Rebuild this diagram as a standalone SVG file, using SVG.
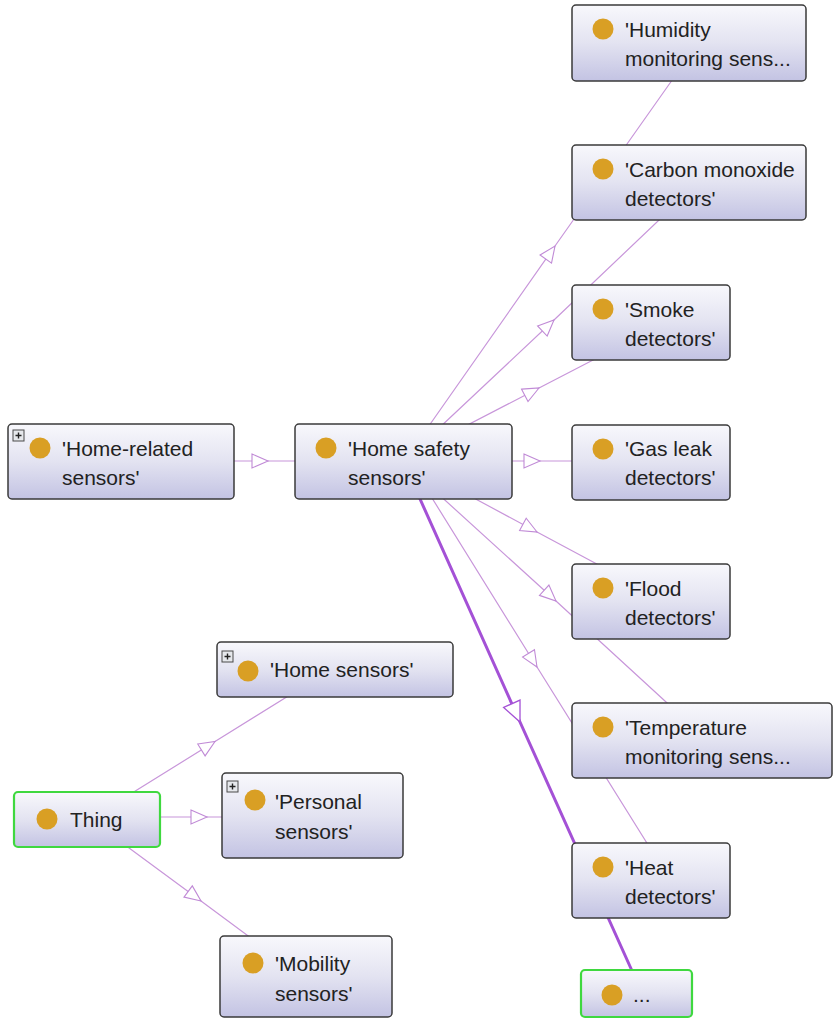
<svg xmlns="http://www.w3.org/2000/svg" width="833" height="1020" viewBox="0 0 833 1020">
  <style>
    .box { fill: url(#boxFill); stroke: #3a3a3a; stroke-width: 1.5; }
    .root { fill: url(#boxFill); stroke: #3fd83f; stroke-width: 2.2; }
    .dot { fill: #d99f24; }
    .lbl { font-family: "Liberation Sans", Arial, sans-serif; font-size: 21px; fill: #222; }
    .plusbox { fill: #e6e8ec; stroke: #4a4a4a; stroke-width: 1; }
    .plus { stroke: #222; stroke-width: 1.4; }
    .edge { fill: none; stroke: #c896da; stroke-width: 1.2; marker-mid: url(#tri); }
    .edge-hl { fill: none; stroke: #a451d6; stroke-width: 3; marker-mid: url(#triHl); }
  </style>
  <defs>
    <linearGradient id="boxFill" x1="0" y1="0" x2="0" y2="1">
      <stop offset="0" stop-color="#f8f8fc"/>
      <stop offset="0.5" stop-color="#e3e3f1"/>
      <stop offset="1" stop-color="#c3c3e3"/>
    </linearGradient>
    <marker id="tri" markerUnits="userSpaceOnUse" markerWidth="20" markerHeight="18" refX="17" refY="8" orient="auto" overflow="visible">
      <path d="M1,1 L17,8 L1,15 Z" fill="#fff" stroke="#c08ad6" stroke-width="1.1"/>
    </marker>
    <marker id="triHl" markerUnits="userSpaceOnUse" markerWidth="24" markerHeight="22" refX="21" refY="10" orient="auto" overflow="visible">
      <path d="M1,1 L21,10 L1,19 Z" fill="#fff" stroke="#a451d6" stroke-width="1.3"/>
    </marker>
  </defs>

  <rect width="833" height="1020" fill="#ffffff"/>

  <!-- subclass edges, drawn centre to centre beneath the nodes -->
  <g id="connectors">
    <path class="edge" d="M121,461 L268,461 L403,461"/>
    <path class="edge" d="M405,460 L555,246 L699,42"/>
    <path class="edge" d="M405,460 L554,320 L699,182"/>
    <path class="edge" d="M400,460 L539,388 L651,330"/>
    <path class="edge" d="M403,461 L540,461 L651,461"/>
    <path class="edge" d="M405,461 L537,532 L651,593"/>
    <path class="edge" d="M403,462 L556,601 L702,735"/>
    <path class="edge" d="M409,461 L537,667 L670,880"/>
    <path class="edge-hl" d="M403,461 L520,722 L642,993"/>
    <path class="edge" d="M87,821 L215,741.5 L335,667"/>
    <path class="edge" d="M87,817 L207,817 L312,817"/>
    <path class="edge" d="M87,817 L201,901 L306,979"/>
  </g>

  <g id="humidity">
    <rect class="box" x="572" y="5" width="234" height="76" rx="4"/>
    <circle class="dot" cx="603" cy="29" r="10.5"/>
    <text class="lbl" x="625" y="37">'Humidity</text>
    <text class="lbl" x="625" y="66">monitoring sens...</text>
  </g>

  <g id="carbon-monoxide">
    <rect class="box" x="572" y="145" width="234" height="75" rx="4"/>
    <circle class="dot" cx="603" cy="169" r="10.5"/>
    <text class="lbl" x="625" y="177">'Carbon monoxide</text>
    <text class="lbl" x="625" y="206">detectors'</text>
  </g>

  <g id="smoke">
    <rect class="box" x="572" y="285" width="158" height="75" rx="4"/>
    <circle class="dot" cx="603" cy="309" r="10.5"/>
    <text class="lbl" x="625" y="317">'Smoke</text>
    <text class="lbl" x="625" y="346">detectors'</text>
  </g>

  <g id="gas-leak">
    <rect class="box" x="572" y="425" width="158" height="75" rx="4"/>
    <circle class="dot" cx="603" cy="449" r="10.5"/>
    <text class="lbl" x="625" y="456">'Gas leak</text>
    <text class="lbl" x="625" y="485">detectors'</text>
  </g>

  <g id="flood">
    <rect class="box" x="572" y="564" width="158" height="75" rx="4"/>
    <circle class="dot" cx="603" cy="588" r="10.5"/>
    <text class="lbl" x="625" y="596">'Flood</text>
    <text class="lbl" x="625" y="625">detectors'</text>
  </g>

  <g id="temperature">
    <rect class="box" x="572" y="703" width="260" height="75" rx="4"/>
    <circle class="dot" cx="603" cy="727" r="10.5"/>
    <text class="lbl" x="625" y="735">'Temperature</text>
    <text class="lbl" x="625" y="764">monitoring sens...</text>
  </g>

  <g id="heat">
    <rect class="box" x="572" y="843" width="158" height="75" rx="4"/>
    <circle class="dot" cx="603" cy="867" r="10.5"/>
    <text class="lbl" x="625" y="875">'Heat</text>
    <text class="lbl" x="625" y="904">detectors'</text>
  </g>

  <g id="more">
    <rect class="root" x="581" y="970" width="111" height="47" rx="4"/>
    <circle class="dot" cx="612" cy="995" r="10.5"/>
    <text class="lbl" x="633" y="1002">...</text>
  </g>

  <g id="home-related">
    <rect class="box" x="8" y="424" width="226" height="75" rx="4"/>
    <rect class="plusbox" x="13" y="430" width="11" height="11"/>
    <path class="plus" d="M15.5,435.5 H21.5 M18.5,432.5 V438.5"/>
    <circle class="dot" cx="40" cy="448" r="10.5"/>
    <text class="lbl" x="62" y="456">'Home-related</text>
    <text class="lbl" x="62" y="485">sensors'</text>
  </g>

  <g id="home-safety">
    <rect class="box" x="295" y="424" width="217" height="75" rx="4"/>
    <circle class="dot" cx="326" cy="448" r="10.5"/>
    <text class="lbl" x="348" y="456">'Home safety</text>
    <text class="lbl" x="348" y="485">sensors'</text>
  </g>

  <g id="home-sensors">
    <rect class="box" x="217" y="642" width="236" height="55" rx="4"/>
    <rect class="plusbox" x="222" y="651" width="11" height="11"/>
    <path class="plus" d="M224.5,656.5 H230.5 M227.5,653.5 V659.5"/>
    <circle class="dot" cx="248" cy="671" r="10.5"/>
    <text class="lbl" x="270" y="677">'Home sensors'</text>
  </g>

  <g id="thing">
    <rect class="root" x="14" y="792" width="146" height="55" rx="4"/>
    <circle class="dot" cx="47" cy="819" r="10.5"/>
    <text class="lbl" x="70" y="827">Thing</text>
  </g>

  <g id="personal">
    <rect class="box" x="222" y="773" width="181" height="85" rx="4"/>
    <rect class="plusbox" x="227" y="781" width="11" height="11"/>
    <path class="plus" d="M229.5,786.5 H235.5 M232.5,783.5 V789.5"/>
    <circle class="dot" cx="255" cy="800" r="10.5"/>
    <text class="lbl" x="275" y="809">'Personal</text>
    <text class="lbl" x="275" y="839">sensors'</text>
  </g>

  <g id="mobility">
    <rect class="box" x="220" y="936" width="172" height="81" rx="4"/>
    <circle class="dot" cx="253" cy="963" r="10.5"/>
    <text class="lbl" x="275" y="971">'Mobility</text>
    <text class="lbl" x="275" y="1001">sensors'</text>
  </g>
</svg>
